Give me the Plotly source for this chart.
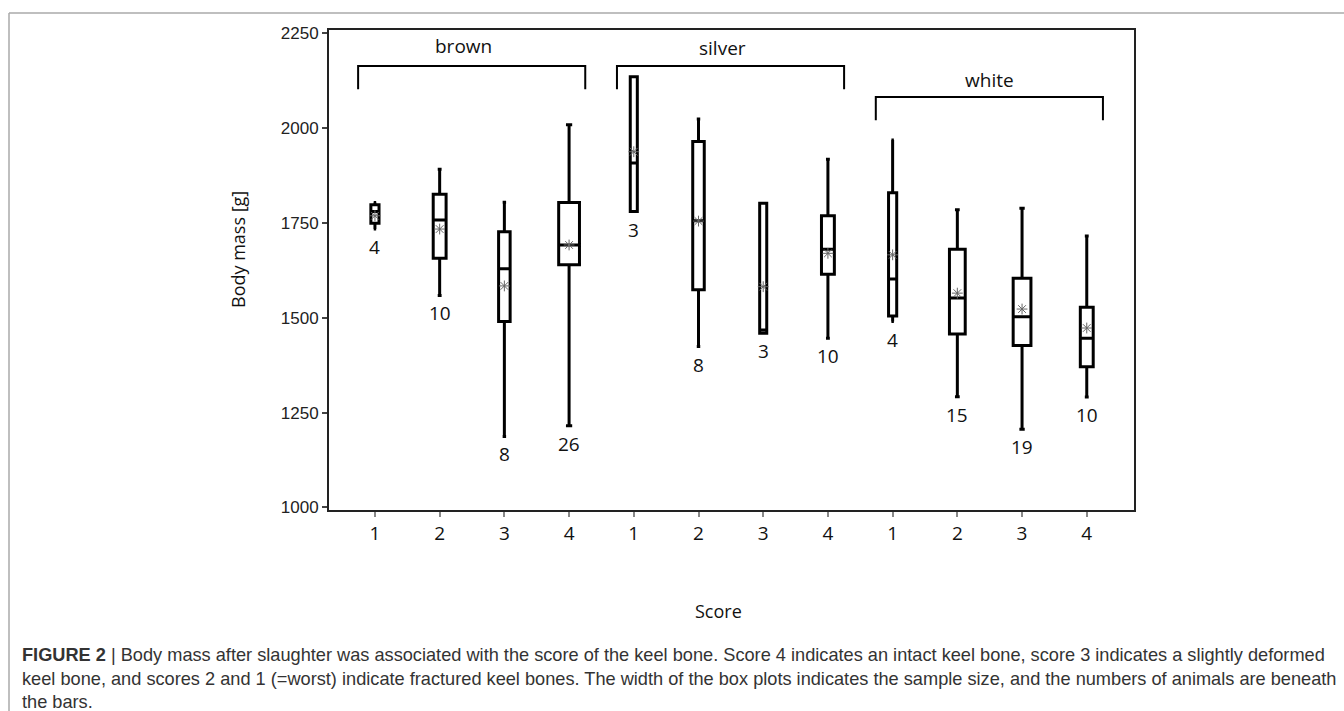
import plotly.graph_objects as go
import numpy as np

# ---------------- data ----------------
groups = ["brown", "silver", "white"]
scores = ["1", "2", "3", "4"]
n_animals = [4, 10, 8, 26, 3, 8, 3, 10, 4, 15, 19, 10]
upper = [1804, 1892, 1805, 2009, 2136, 2024, 1802, 1918, 1969, 1785, 1789, 1716]
q3 = [1798, 1826, 1727, 1804, 2136, 1965, 1802, 1769, 1830, 1681, 1604, 1528]
median = [1780, 1758, 1629, 1692, 1908, 1756, 1468, 1681, 1602, 1552, 1503, 1446]
q1 = [1749, 1657, 1490, 1640, 1780, 1574, 1459, 1615, 1505, 1457, 1427, 1371]
lower = [1734, 1559, 1187, 1215, 1780, 1424, 1459, 1446, 1490, 1292, 1206, 1291]
mean = [1769, 1734, 1584, 1692, 1938, 1755, 1582, 1670, 1666, 1565, 1523, 1473]
y_ticks = [1000, 1250, 1500, 1750, 2000, 2250]
caption_lines = [
    "<b>FIGURE 2</b> | Body mass after slaughter was associated with the score of the keel bone. "
    "Score 4 indicates an intact keel bone, score 3 indicates a slightly deformed",
    "keel bone, and scores 2 and 1 (=worst) indicate fractured keel bones. The width of the box "
    "plots indicates the sample size, and the numbers of animals are beneath",
    "the bars.",
]

# ---------------- layout geometry ----------------
FW, FH = 1344, 711
L, R, T, B = 329, 1134, 30, 510
PW, PH = R - L, B - T


def px_x(px):
    return (px - L) / PW


def px_y(py):
    return (B - py) / PH


positions = list(range(1, len(n_animals) + 1))
tick_text = [s for g in groups for s in scores]
SANS = "Open Sans, DejaVu Sans, sans-serif"

fig = go.Figure()

for i, pos in enumerate(positions):
    w = 0.063 * np.sqrt(n_animals[i])
    fig.add_trace(go.Box(
        x=[pos], q1=[q1[i]], median=[median[i]], q3=[q3[i]],
        lowerfence=[lower[i]], upperfence=[upper[i]],
        width=w, whiskerwidth=0.3,
        line=dict(color="black", width=3), fillcolor="white",
        boxpoints=False, showlegend=False, hoverinfo="skip",
    ))

fig.add_trace(go.Scatter(
    x=positions, y=mean, mode="markers",
    marker=dict(symbol="asterisk-open", size=9, color="#666",
                line=dict(color="#666", width=1)),
    showlegend=False, hoverinfo="skip",
))

ann_font = dict(family=SANS, size=19, color="#111")

for i, pos in enumerate(positions):
    fig.add_annotation(x=pos, y=lower[i], text=str(n_animals[i]), showarrow=False,
                       xanchor="center", yanchor="middle", yshift=-18, font=ann_font)

# group brackets and labels
bracket_y = [2164, 2164, 2082]
label_y = [2217, 2212, 2127]
shapes = []
for g, name in enumerate(groups):
    x0 = positions[4 * g] - 0.26
    x1 = positions[4 * g + 3] + 0.25
    yb = bracket_y[g]
    yd = yb - 61
    shapes.append(dict(type="path", xref="x", yref="y",
                       path=f"M {x0},{yd} L {x0},{yb} L {x1},{yb} L {x1},{yd}",
                       line=dict(color="black", width=2)))
    fig.add_annotation(x=(positions[4 * g] + positions[4 * g + 3]) / 2 - (0.13 if g < 2 else 0),
                       y=label_y[g], text=name, showarrow=False,
                       xanchor="center", yanchor="middle",
                       font=dict(family=SANS, size=19, color="#111"))

# outer page frame (top and left)
shapes.append(dict(type="line", xref="paper", yref="paper",
                   x0=px_x(9), x1=px_x(FW + 5), y0=px_y(13), y1=px_y(13),
                   line=dict(color="#aaa", width=1.5)))
shapes.append(dict(type="line", xref="paper", yref="paper",
                   x0=px_x(9), x1=px_x(9), y0=px_y(13), y1=px_y(FH + 5),
                   line=dict(color="#aaa", width=1.5)))

# axis titles
fig.add_annotation(xref="paper", yref="paper", x=px_x(238), y=px_y(250), text="Body mass [g]",
                   textangle=-90, showarrow=False, xanchor="center", yanchor="middle",
                   font=dict(family=SANS, size=18, color="#111"))
fig.add_annotation(xref="paper", yref="paper", x=px_x(718), y=px_y(611), text="Score",
                   showarrow=False, xanchor="center", yanchor="middle",
                   font=dict(family=SANS, size=18, color="#111"))

# caption
cap_y = [655, 679, 702]
for line, yy in zip(caption_lines, cap_y):
    fig.add_annotation(xref="paper", yref="paper", x=px_x(20), y=px_y(yy), text=line,
                       showarrow=False, xanchor="left", yanchor="middle", align="left",
                       font=dict(family="Liberation Sans, Arial, sans-serif", size=18.2, color="#333"))

fig.update_layout(
    width=FW, height=FH,
    margin=dict(l=L, r=FW - R, t=T, b=FH - B),
    paper_bgcolor="white", plot_bgcolor="white",
    shapes=shapes,
    showlegend=False,
    xaxis=dict(range=[0.29, 12.73], tickvals=positions, ticktext=tick_text,
               showgrid=False, zeroline=False, showline=True, mirror=True,
               linecolor="#222", linewidth=2, ticks="outside", ticklen=5,
               tickcolor="#888", tickwidth=1.5,
               tickfont=dict(family=SANS, size=19, color="#111")),
    yaxis=dict(range=[993, 2259], tickvals=y_ticks,
               showgrid=False, zeroline=False, showline=True, mirror=True,
               linecolor="#222", linewidth=2, ticks="outside", ticklen=5,
               tickcolor="#444", tickwidth=1.5,
               tickfont=dict(family="Liberation Sans, Arial, sans-serif", size=17, color="#222")),
)

fig.write_html("out.html")
